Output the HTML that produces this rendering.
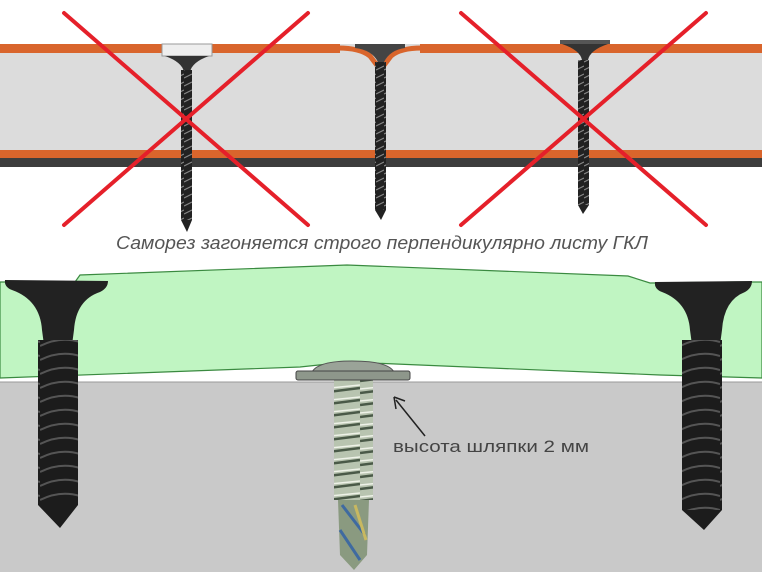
<!DOCTYPE html>
<html><head><meta charset="utf-8"><style>
html,body{margin:0;padding:0;background:#fff}
svg{display:block}
</style></head><body>
<svg width="762" height="572" viewBox="0 0 762 572" xmlns="http://www.w3.org/2000/svg">
<defs>
<pattern id="thr" width="8" height="8" patternUnits="userSpaceOnUse"><rect width="8" height="8" fill="#222"/><path d="M0 6 L8 2" stroke="#888" stroke-width="1.2"/></pattern>
<pattern id="thrB" width="40" height="14" patternUnits="userSpaceOnUse"><rect width="40" height="14" fill="#1c1c1c"/><path d="M0 10 Q20 0 40 6" stroke="#555" stroke-width="2" fill="none"/></pattern>
<pattern id="thrS" width="40" height="12" patternUnits="userSpaceOnUse"><rect width="40" height="12" fill="#b8c4b0"/><path d="M0 9 L40 4" stroke="#4a5a48" stroke-width="2.5"/><path d="M0 5 L40 1" stroke="#eef2e8" stroke-width="1.5"/></pattern>
</defs>
<!-- top board -->
<rect x="0" y="44" width="762" height="9" fill="#d9652c"/>
<rect x="0" y="53" width="762" height="97" fill="#dcdcdc"/>
<rect x="0" y="150" width="762" height="8" fill="#d9652c"/>
<rect x="0" y="158" width="762" height="9" fill="#3d3d3d"/>
<!-- screw 1 -->
<rect x="162" y="44" width="50" height="12" fill="#eee" stroke="#999"/>
<path d="M165 56 L209 56 Q192 62 190 72 L184 72 Q182 62 165 56Z" fill="#333"/>
<rect x="181" y="70" width="11" height="150" fill="url(#thr)"/>
<path d="M181 220 L192 220 L187 232Z" fill="#222"/>
<!-- screw 2 -->
<path d="M340 44 L420 44 L420 53 L340 53Z" fill="#dcdcdc"/>
<path d="M338 48 Q360 48 370 56 L376 64 L385 64 L391 56 Q400 48 422 48" fill="none" stroke="#d9652c" stroke-width="5"/>
<path d="M355 44 L405 44 L405 48 Q390 50 384 62 L378 62 Q372 50 355 48Z" fill="#444"/>
<rect x="375" y="62" width="11" height="148" fill="url(#thr)"/>
<path d="M375 210 L386 210 L381 220Z" fill="#222"/>
<!-- screw 3 -->
<rect x="560" y="40" width="50" height="4" fill="#555"/>
<path d="M562 44 L608 44 Q590 50 588 60 L582 60 Q580 50 562 44Z" fill="#333"/>
<rect x="578" y="60" width="11" height="145" fill="url(#thr)"/>
<path d="M578 205 L589 205 L583 214Z" fill="#222"/>
<!-- red X -->
<g stroke="#e5202a" stroke-width="4" stroke-linecap="round">
<line x1="64" y1="13" x2="308" y2="225"/><line x1="308" y1="13" x2="64" y2="225"/>
<line x1="461" y1="13" x2="706" y2="225"/><line x1="706" y1="13" x2="461" y2="225"/>
</g>
<text x="116" y="249" textLength="532" lengthAdjust="spacingAndGlyphs" font-family="Liberation Sans, sans-serif" font-style="italic" font-size="18" fill="#555">Саморез загоняется строго перпендикулярно листу ГКЛ</text>
<!-- bottom -->
<rect x="0" y="382" width="762" height="190" fill="#c9c9c9"/>
<path d="M0 282 L75 282 L80 275 L347 265 L628 276 L650 283 L735 282 L762 282 L762 378 L660 375 L347 362 L300 367 L0 378Z" fill="#c0f5c2" stroke="#3a8a40" stroke-width="1.2"/>
<line x1="0" y1="382" x2="762" y2="382" stroke="#999" stroke-width="1"/>
<!-- left screw -->
<path d="M5 280 Q4 287 12 290 Q40 300 42 330 L44 345 L72 345 L74 330 Q76 300 100 292 Q108 288 108 281Z" fill="#222"/>
<rect x="38" y="340" width="40" height="165" fill="url(#thrB)"/>
<path d="M38 505 L78 505 L60 528Z" fill="#1c1c1c"/>
<!-- right screw -->
<path d="M655 282 Q654 289 662 292 Q688 302 690 330 L692 345 L720 345 L722 330 Q724 300 745 292 Q752 288 752 281Z" fill="#222"/>
<rect x="682" y="340" width="40" height="170" fill="url(#thrB)"/>
<path d="M682 510 L722 510 L704 530Z" fill="#1c1c1c"/>
<!-- middle screw -->
<rect x="334" y="380" width="39" height="120" fill="url(#thrS)"/>
<path d="M338 500 L369 500 L367 555 L354 570 L340 555Z" fill="#8a9a80"/>
<path d="M342 505 L365 535 M340 530 L360 560" stroke="#3f6aa0" stroke-width="3"/>
<path d="M355 505 L366 540" stroke="#c8b860" stroke-width="3"/>
<path d="M312 372 Q318 361 352 361 Q388 361 394 372Z" fill="#9aa398" stroke="#555"/>
<rect x="296" y="371" width="114" height="9" rx="2" fill="#8e978b" stroke="#444"/>
<!-- arrow -->
<line x1="425" y1="436" x2="396" y2="400" stroke="#222" stroke-width="1.5"/>
<path d="M394 397 L396 409 M394 397 L405 401" stroke="#222" stroke-width="1.5" fill="none"/>
<text x="393" y="452" textLength="196" lengthAdjust="spacingAndGlyphs" font-family="Liberation Sans, sans-serif" font-size="17" fill="#444">высота шляпки 2 мм</text>
</svg>
</body></html>
